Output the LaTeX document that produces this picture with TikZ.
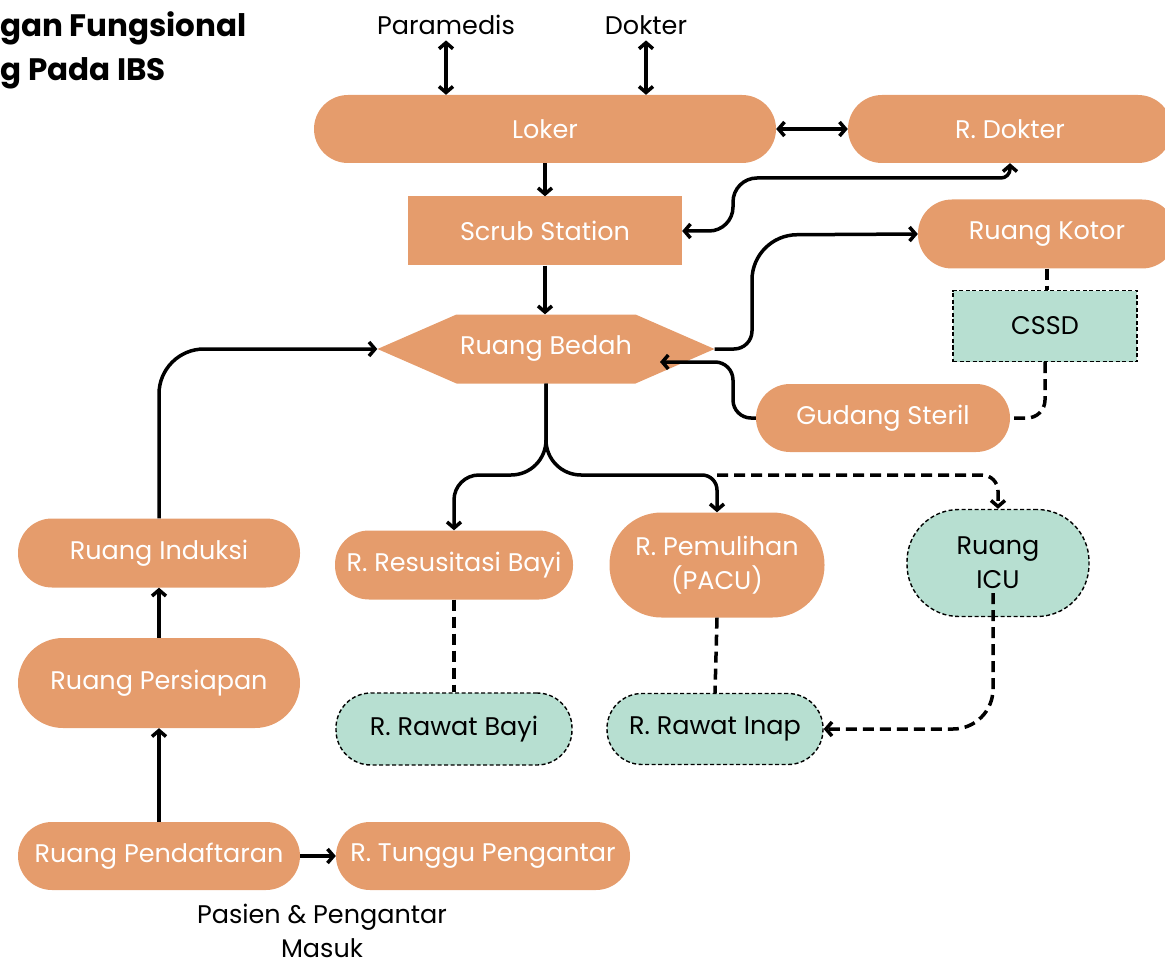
\documentclass[tikz,border=0pt]{standalone}
\usepackage{fontspec}
\setmainfont{Poppins}
\usetikzlibrary{arrows.meta,calc}
\definecolor{orng}{RGB}{229,156,108}
\definecolor{teal2}{RGB}{183,223,209}
\tikzset{
  base/.style={inner sep=0pt, align=center, font=\fontsize{25.5}{34}\selectfont},
  pill/.style={base, rectangle, rounded corners=#1, fill=orng, text=white},
  pill/.default=34pt,
  tpill/.style={base, rectangle, rounded corners=#1, fill=teal2, text=black, draw=black, line width=1.4pt, dash pattern=on 4pt off 2.5pt},
  tpill/.default=35pt,
  lbl/.style={base, text=black},
  tip/.style={-{Straight Barb[length=6pt,width=14pt]}},
  conn/.style={line width=3.5pt, tip},
  both/.style={line width=3.5pt, {Straight Barb[length=6pt,width=14pt]}-{Straight Barb[length=6pt,width=14pt]}},
  dconn/.style={line width=3.5pt, dash pattern=on 11pt off 6pt},
}
\begin{document}
\begin{tikzpicture}[x=1pt,y=-1pt]
\useasboundingbox (0,0) rectangle (1165,960);
% title
\node[base, font=\fontsize{31}{38}\selectfont\bfseries, anchor=base east] (t1) at (247,37) {gan Fungsional};
\node[base, font=\fontsize{31}{38}\selectfont\bfseries, anchor=base east] (t2) at (166,81) {g Pada IBS};
% labels
\node[lbl, anchor=base] (para) at (446,35) {Paramedis};
\node[lbl, anchor=base] (dok) at (646,35) {Dokter};
% nodes
\node[pill, minimum width=462pt, minimum height=68pt] (loker) at (545,129) {Loker};
\node[pill, minimum width=324pt, minimum height=68pt] (rdok) at (1010,129) {R. Dokter};
\node[base, rectangle, fill=orng, text=white, minimum width=274pt, minimum height=69pt] (scrub) at (545,231) {Scrub Station};
\node[base, rectangle, text=white, minimum width=337pt, minimum height=69pt,
  path picture={\fill[orng] (path picture bounding box.west) -- ++(79pt,-34.5pt) -- ++(179pt,0) -- (path picture bounding box.east) -- ++(-79pt,34.5pt) -- ++(-179pt,0) -- cycle;}] (bedah) at (546,349) {Ruang Bedah};
\node[pill, minimum width=258pt, minimum height=69pt] (kotor) at (1047,234) {Ruang Kotor};
\node[base, rectangle, fill=teal2, draw=black, line width=1.4pt, dash pattern=on 4pt off 2.5pt, minimum width=184pt, minimum height=71pt] (cssd) at (1045,326) {CSSD};
\node[pill, minimum width=254pt, minimum height=68pt] (gudang) at (883,418) {Gudang Steril};
\node[pill, minimum width=238pt, minimum height=69pt] (resus) at (454,565) {R. Resusitasi Bayi};
\node[pill=52pt, minimum width=215pt, minimum height=105pt] (pacu) at (717,565) {R. Pemulihan\\(PACU)};
\node[tpill=52pt, minimum width=182pt, minimum height=107pt] (icu) at (998,563) {Ruang\\ICU};
\node[tpill, minimum width=236pt, minimum height=72pt] (bayi) at (454,729) {R. Rawat Bayi};
\node[tpill, minimum width=216pt, minimum height=71pt] (inap) at (715,729) {R. Rawat Inap};
\node[pill, minimum width=282pt, minimum height=69pt] (induksi) at (159,553) {Ruang Induksi};
\node[pill=45pt, minimum width=282pt, minimum height=90pt] (persiapan) at (159,683) {Ruang Persiapan};
\node[pill, minimum width=282pt, minimum height=68pt] (daftar) at (159,856) {Ruang Pendaftaran};
\node[pill, minimum width=294pt, minimum height=68pt] (tunggu) at (483,856) {R. Tunggu Pengantar};
\node[lbl] (masuk) at (322,931) {Pasien \& Pengantar\\Masuk};
% waypoints
\coordinate (split) at (546,475);
\coordinate (bedahin) at (660,362);
\coordinate (icuout) at (993,593);
% connectors
\draw[both] (para.south) ++(0,5) -- (para.south |- loker.north);
\draw[both] (dok.south) ++(0,5) -- (dok.south |- loker.north);
\draw[both] (loker.east) -- (rdok.west);
\draw[conn] (loker.south) -- (loker.south |- scrub.north);
\draw[both, rounded corners=24pt] (scrub.east) -- (733,231) -- (733,178) [rounded corners=9pt] -- (rdok.south |- 0,178) -- (rdok.south);
\draw[conn] (scrub.south) -- (scrub.south |- bedah.north);
\draw[conn, rounded corners=18pt] (bedah.east) -- (752,349) [rounded corners=45pt] -- (752,235) -- (kotor.west);
\draw[dconn] (kotor.south) -- (kotor.south |- cssd.north);
\draw[dconn, rounded corners=18pt] (cssd.south) -- (cssd.south |- gudang.east) -- (gudang.east);
\draw[conn, rounded corners=18pt] (gudang.west) -- (733,418) -- (733,362) -- (bedahin);
\draw[conn, rounded corners=45pt] (induksi.north) |- (bedah.west);
\draw[conn, rounded corners=35pt] (bedah.south) -- (split) [rounded corners=25pt] -- (resus.north |- split) -- (resus.north);
\draw[conn, rounded corners=35pt] (bedah.south) -- (split) [rounded corners=15pt] -- (pacu.north |- split) -- (pacu.north);
\draw[dconn, tip, rounded corners=16pt] (pacu.north |- split) -- (icu.north |- split) -- (icu.north);
\draw[dconn] (resus.south) -- (resus.south |- bayi.north);
\draw[dconn] (pacu.south) -- (inap.north);
\draw[dconn, tip, rounded corners=40pt] (icuout) |- (inap.east);
\draw[conn] (persiapan.north) -- (induksi.south);
\draw[conn] (daftar.north) -- (persiapan.south);
\draw[conn] (daftar.east) -- (tunggu.west);
\end{tikzpicture}
\end{document}
